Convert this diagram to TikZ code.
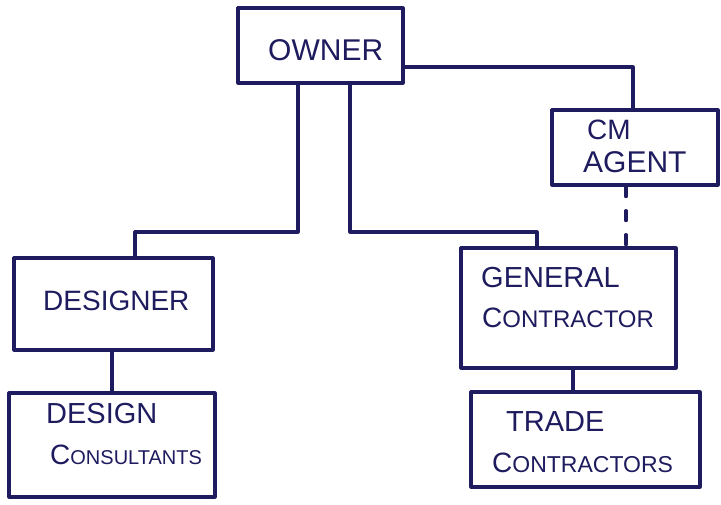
\documentclass[tikz,border=0pt]{standalone}
\usepackage{fontspec}
\setmainfont{Liberation Sans}
\definecolor{ink}{HTML}{1E1B5E}
\begin{document}
\begin{tikzpicture}[x=1pt,y=-1pt,
  box/.style={draw=ink,line width=3.2pt,line cap=round,line join=round,inner sep=0pt},
  link/.style={draw=ink,line width=3.2pt,line cap=round,line join=round},
  lbl/.style={text=ink,inner sep=0pt,anchor=base west},
  fs/.style={font=\fontsize{#1}{#1}\selectfont}]
\useasboundingbox (0,0) rectangle (721,505);
% boxes
\node[box,minimum width=165pt,minimum height=75pt] (owner) at (320.5,45.5) {};
\node[box,minimum width=166pt,minimum height=75pt] (cm) at (635,147.5) {};
\node[box,minimum width=199pt,minimum height=92pt] (designer) at (113.5,304) {};
\node[box,minimum width=215pt,minimum height=120pt] (gc) at (568.5,308) {};
\node[box,minimum width=206pt,minimum height=104pt] (dcons) at (112,445) {};
\node[box,minimum width=229pt,minimum height=95pt] (trade) at (585.5,439.5) {};
% labels
\node[lbl,fs=30] (tOwner) at (268,61) {OWNER};
\node[lbl,fs=28] (tCM) at (587,140) {CM};
\node[lbl,fs=30] (tAgent) at (583,173) {AGENT};
\node[lbl,fs=28] (tDesigner) at (43,311) {DESIGNER};
\node[lbl,fs=29] (tGeneral) at (481,288) {GENERAL};
\node[lbl,fs=28] (tContractor) at (482,328) {C{\fontsize{24}{24}\selectfont ONTRACTOR}};
\node[lbl,fs=29] (tDesign) at (46,424) {DESIGN};
\node[lbl,fs=28] (tConsultants) at (50,464) {C{\fontsize{20}{20}\selectfont ONSULTANTS}};
\node[lbl,fs=29] (tTrade) at (506,431) {TRADE};
\node[lbl,fs=28] (tContractors) at (492,472) {C{\fontsize{23}{23}\selectfont ONTRACTORS}};
% helper coordinates
\coordinate (ownL) at (298,0);
\coordinate (ownR) at (350,0);
\coordinate (busY) at (0,232);
\coordinate (rowY) at (0,67);
\coordinate (dsX) at (135,0);
\coordinate (gcX) at (537,0);
\coordinate (cmTop) at (633,0);
\coordinate (cmX) at (626,0);
\coordinate (dcX) at (112,0);
\coordinate (tcX) at (573,0);
% connectors
\draw[link] (owner.east |- rowY) -| (cm.north -| cmTop);
\draw[link] (owner.south -| ownL) -- (ownL |- busY) -| (designer.north -| dsX);
\draw[link] (owner.south -| ownR) -- (ownR |- busY) -| (gc.north -| gcX);
\draw[link,dash pattern=on 10pt off 14pt] (cm.south -| cmX) -- (gc.north -| cmX);
\draw[link] (designer.south -| dcX) -- (dcons.north -| dcX);
\draw[link] (gc.south -| tcX) -- (trade.north -| tcX);
\end{tikzpicture}
\end{document}
